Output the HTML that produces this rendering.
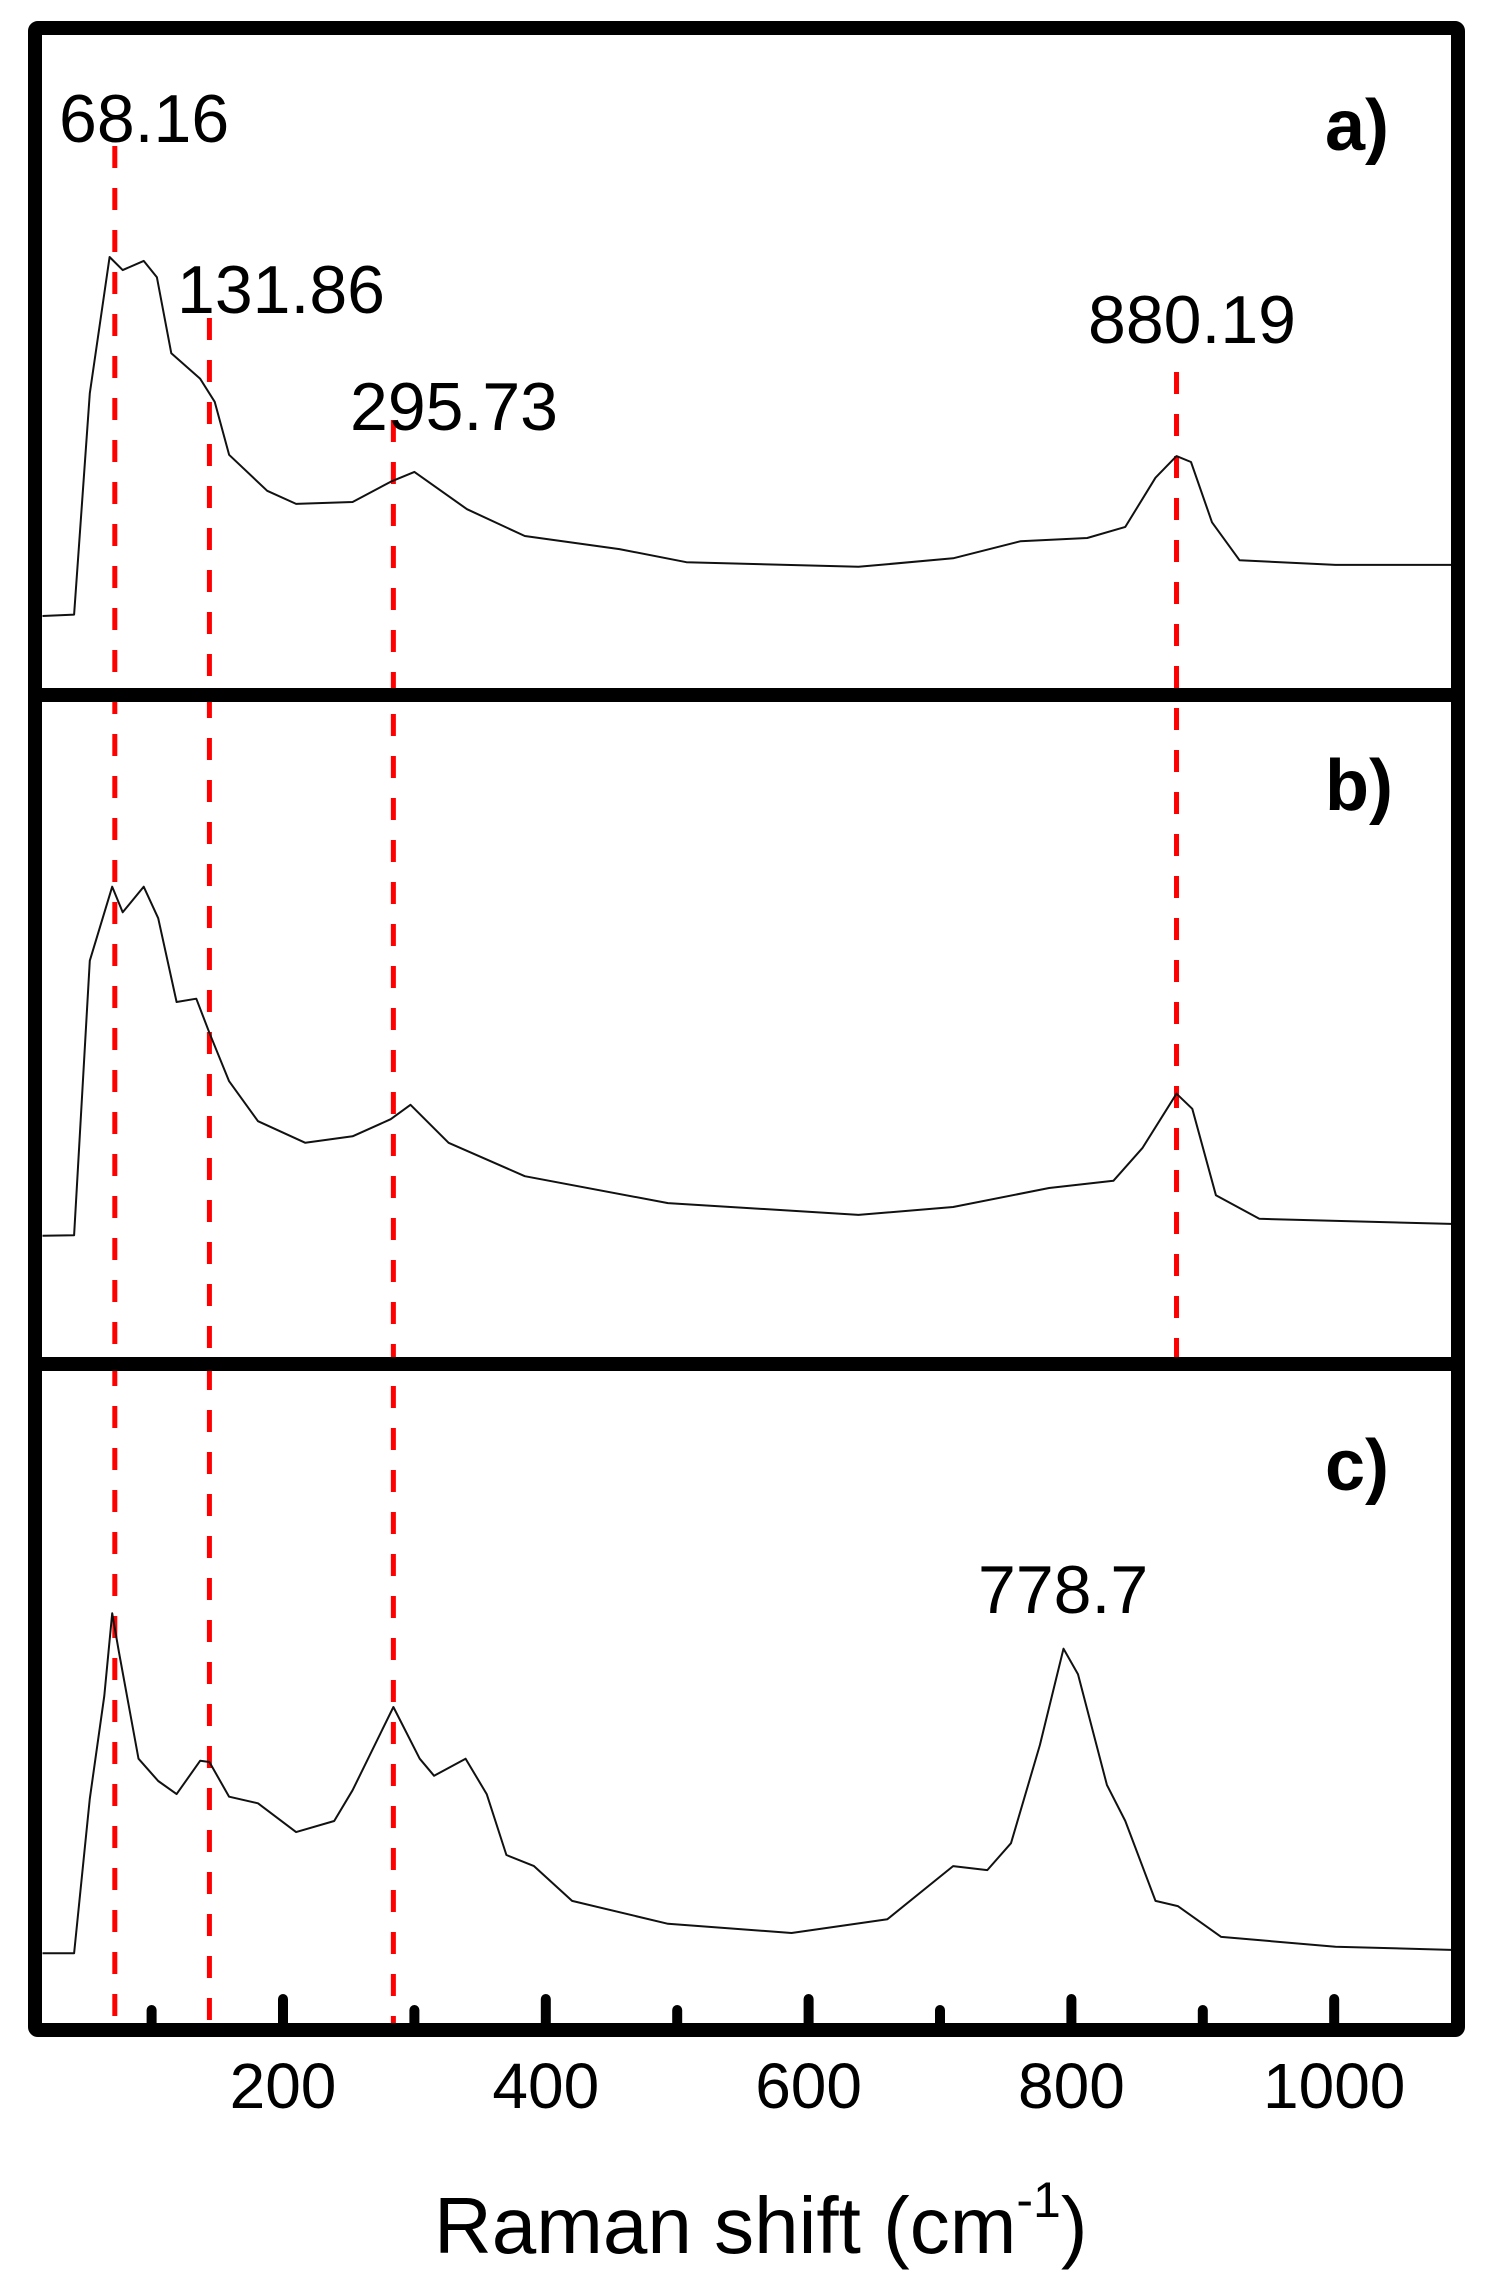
<!DOCTYPE html>
<html><head><meta charset="utf-8"><title>Raman spectra</title>
<style>
html,body{margin:0;padding:0;background:#fff;}
svg{display:block;font-family:"Liberation Sans",Arial,sans-serif;}
</style></head>
<body>
<svg id="chart" width="1489" height="2295" viewBox="0 0 1489 2295" xmlns="http://www.w3.org/2000/svg">
  <g id="lines"></g>
  <g id="series"></g>
  <g id="ticks"></g>
  <g fill="none" stroke="#000" stroke-width="14">
    <rect x="35" y="28" width="1423" height="2002" rx="3"/>
    <line x1="35" y1="695" x2="1458" y2="695"/>
    <line x1="35" y1="1364" x2="1458" y2="1364"/>
  </g>
  <g id="labels" font-size="68" fill="#000"></g>
  <text x="1325" y="150" font-size="72" font-weight="bold">a)</text>
  <text x="1325" y="810" font-size="72" font-weight="bold">b)</text>
  <text x="1325" y="1490" font-size="72" font-weight="bold">c)</text>
  <g id="ticklabels" font-size="64" text-anchor="middle"></g>
  <text x="434" y="2253" font-size="80">Raman shift (cm<tspan font-size="50" dy="-36">-1</tspan><tspan dy="36">)</tspan></text>
</svg>
<script>
// ---- data ----
const majorTicks = [200, 400, 600, 800, 1000];
const minorTicks = [100, 300, 500, 700, 900];
const tickLabels = ["200", "400", "600", "800", "1000"];
const refLineX = [72, 144, 284, 880];
const refLineTopY = [146, 318, 420, 372];
const refLineBottomY = [2024, 2024, 2024, 1357];
const peakLabelText = ["68.16", "131.86", "295.73", "880.19", "778.7"];
const peakLabelX = [59, 177, 350, 1088, 978];
const peakLabelY = [142, 313, 430, 343, 1613];

const shiftA = [17,41,53,68,78,94,104,115,137,148,159,188,210,253,282,300,340,384,456,507,638,710,761,812,841,864,880,891,907,928,1001,1092];
const intA   = [11,11.2,45,65.8,63.8,65.2,62.7,51.1,47.2,43.7,35.6,30.1,28.1,28.4,31.5,33.0,27.3,23.2,21.2,19.2,18.5,19.8,22.4,22.9,24.6,32.1,35.4,34.5,25.3,19.5,18.8,18.8];

const shiftB = [17,41,53,70,78,94,105,119,134,144,159,181,217,253,282,297,326,384,493,638,710,783,832,854,880,892,910,943,1092];
const intB   = [18.5,18.6,60.5,71.8,67.9,71.8,67.0,54.2,54.7,49.5,42.1,36.0,32.7,33.7,36.3,38.5,32.7,27.6,23.5,21.7,22.9,25.8,26.9,31.9,40.2,37.9,24.7,21.1,20.3];

const shiftC = [17,41,53,64,70,75,90,105,119,137,144,159,181,210,239,253,284,304,315,339,355,370,391,420,493,587,660,710,736,754,776,794,805,827,841,864,881,914,1001,1092];
const intC   = [10.8,10.8,34.4,50.1,62.7,56.9,40.5,37.1,35.1,40.2,40.0,34.7,33.7,29.3,31.0,35.7,48.4,40.5,37.9,40.5,35.1,25.8,24.1,18.8,15.3,13.9,16.0,24.1,23.5,27.6,42.6,57.3,53.4,36.5,31.0,18.8,18.0,13.3,11.8,11.3];

// ---- axes ----
const NS = "http://www.w3.org/2000/svg";
function xs(v){ return 20.2 + 1.314 * v; }
const panelBottom = [688, 1357, 2024];
function ys(p, v){ return panelBottom[p] - 6.55 * v; }

function mk(tag, attrs, parent){
  const e = document.createElementNS(NS, tag);
  for (const k in attrs) e.setAttribute(k, attrs[k]);
  parent.appendChild(e);
  return e;
}

const gl = document.getElementById('lines');
refLineX.forEach((v, i) => {
  const l = mk('line', {x1: xs(v), x2: xs(v), y1: refLineTopY[i], y2: refLineBottomY[i], stroke: '#f00', 'stroke-width': 5, 'stroke-dasharray': '22 20'}, gl);
  
  
});

const gs = document.getElementById('series');
[[shiftA, intA], [shiftB, intB], [shiftC, intC]].forEach((s, p) => {
  const d = s[0].map((v, i) => (i ? 'L' : 'M') + xs(v).toFixed(1) + ' ' + ys(p, s[1][i]).toFixed(1)).join(' ');
  const path = mk('path', {d: d, fill: 'none', stroke: '#111', 'stroke-width': 2, 'stroke-linejoin': 'round'}, gs);
  
  
});

const gt = document.getElementById('ticks');
majorTicks.forEach(v => {
  const t = mk('line', {x1: xs(v), x2: xs(v), y1: 1999, y2: 2026, stroke: '#000', 'stroke-width': 10, 'stroke-linecap': 'round'}, gt);
  
  
});
minorTicks.forEach(v => {
  const t = mk('line', {x1: xs(v), x2: xs(v), y1: 2010, y2: 2026, stroke: '#000', 'stroke-width': 10, 'stroke-linecap': 'round'}, gt);
  
  
});

const gtl = document.getElementById('ticklabels');
majorTicks.forEach((v, i) => {
  const t = mk('text', {x: xs(v), y: 2108}, gtl);
  t.textContent = tickLabels[i];
  
  
});

const gpl = document.getElementById('labels');
peakLabelText.forEach((s, i) => {
  const t = mk('text', {x: peakLabelX[i], y: peakLabelY[i]}, gpl);
  t.textContent = s;
  
  
});
</script>
</body></html>
